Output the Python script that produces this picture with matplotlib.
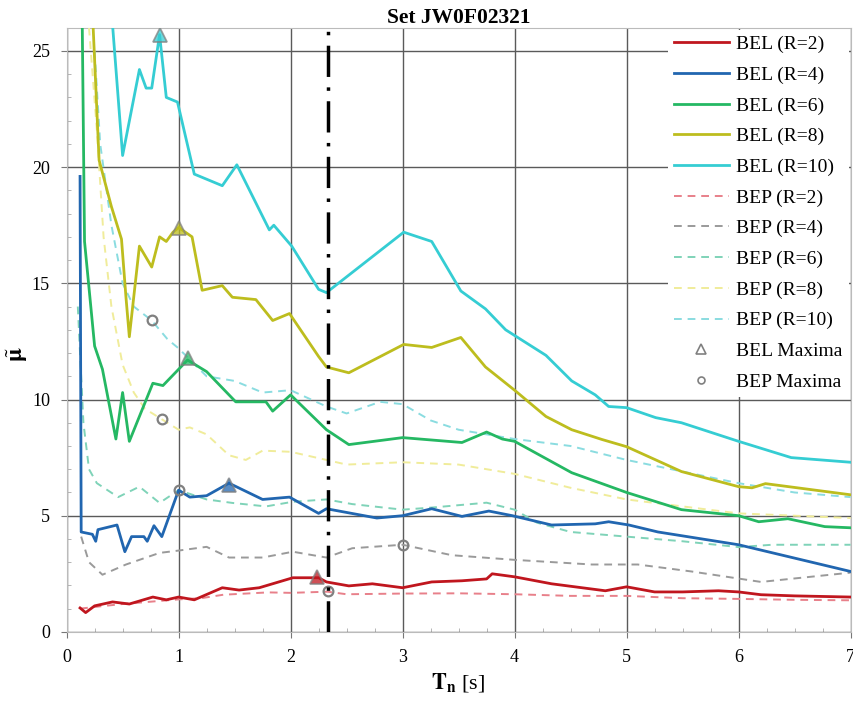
import matplotlib
matplotlib.use('Agg')
import matplotlib.pyplot as plt
from matplotlib.lines import Line2D
from matplotlib.ticker import MultipleLocator

plt.rcParams['font.family'] = ['Liberation Serif', 'DejaVu Serif']
plt.rcParams['mathtext.fontset'] = 'stix'

# BEL curves (solid)
bel2_T = [0.12,0.17,0.25,0.41,0.56,0.77,0.89,1.0,1.14,1.39,1.54,1.72,2.02,2.25,2.32,2.52,2.73,3.0,3.26,3.53,3.75,3.8,4.0,4.33,4.81,5.0,5.25,5.5,5.82,6.0,6.2,6.5,7.0]
bel2 = [1.03,0.83,1.12,1.29,1.2,1.5,1.38,1.5,1.38,1.9,1.8,1.9,2.33,2.33,2.15,1.98,2.07,1.9,2.15,2.2,2.28,2.5,2.37,2.07,1.77,1.94,1.72,1.72,1.77,1.72,1.6,1.55,1.5]

bel4_T = [0.12,0.13,0.23,0.26,0.28,0.45,0.52,0.58,0.69,0.72,0.78,0.85,1.0,1.1,1.25,1.45,1.75,1.99,2.25,2.32,2.77,3.0,3.26,3.53,3.77,3.98,4.33,4.72,4.84,5.02,5.28,6.0,7.0]
bel4 = [19.6,4.3,4.2,3.9,4.4,4.6,3.45,4.1,4.1,3.9,4.57,4.1,6.1,5.8,5.86,6.4,5.7,5.8,5.1,5.3,4.9,5.0,5.3,4.97,5.2,5.0,4.6,4.65,4.74,4.6,4.3,3.75,2.6]

bel6_T = [0.12,0.14,0.16,0.25,0.32,0.44,0.5,0.56,0.77,0.86,1.08,1.25,1.51,1.78,1.84,2.0,2.32,2.52,3.0,3.53,3.75,3.89,4.0,4.51,5.0,5.49,6.0,6.18,6.44,6.77,7.0]
bel6 = [34,26,16.8,12.3,11.3,8.3,10.3,8.2,10.7,10.6,11.7,11.2,9.9,9.9,9.5,10.2,8.7,8.06,8.36,8.15,8.6,8.3,8.2,6.85,6.0,5.26,5.0,4.74,4.87,4.53,4.48]

bel8_T = [0.2,0.29,0.4,0.49,0.53,0.56,0.65,0.76,0.83,0.89,0.95,1.0,1.12,1.21,1.39,1.48,1.69,1.84,1.99,2.25,2.32,2.52,3.01,3.26,3.52,3.74,4.0,4.28,4.51,4.78,5.0,5.49,6.0,6.12,6.24,7.0]
bel8 = [30,20.3,18.3,16.9,14.4,12.7,16.6,15.7,17.0,16.8,17.2,17.4,17.0,14.7,14.9,14.4,14.3,13.4,13.7,11.85,11.4,11.15,12.37,12.24,12.67,11.4,10.4,9.27,8.7,8.28,7.97,6.9,6.25,6.2,6.38,5.9]

bel10_T = [0.38,0.5,0.65,0.71,0.76,0.83,0.89,0.99,1.14,1.39,1.52,1.81,1.85,2.01,2.25,2.32,3.01,3.26,3.52,3.74,3.92,4.28,4.51,4.72,4.84,5.0,5.26,5.49,6.0,6.47,7.0]
bel10 = [28,20.5,24.2,23.4,23.4,25.7,23.0,22.8,19.7,19.2,20.1,17.3,17.5,16.6,14.74,14.6,17.2,16.8,14.67,13.9,13.0,11.9,10.8,10.2,9.7,9.65,9.22,9.0,8.2,7.5,7.3]

# BEP curves (dashed)
bep2_T = [0.12,0.3,0.5,0.75,1.0,1.2,1.4,1.6,1.8,2.0,2.33,2.5,3.0,3.5,4.0,4.5,5.0,5.5,6.0,6.5,7.0]
bep2 = [1.0,1.1,1.2,1.3,1.4,1.45,1.6,1.65,1.7,1.68,1.73,1.62,1.65,1.66,1.62,1.55,1.55,1.45,1.42,1.38,1.36]

bep4_T = [0.13,0.2,0.32,0.53,0.83,1.0,1.25,1.45,1.75,2.02,2.32,2.55,3.0,3.44,4.0,4.69,5.1,5.58,6.2,7.0]
bep4 = [4.1,3.0,2.46,2.9,3.4,3.5,3.66,3.2,3.2,3.45,3.2,3.6,3.75,3.3,3.1,2.9,2.9,2.6,2.15,2.55]

bep6_T = [0.1,0.15,0.2,0.27,0.46,0.65,0.83,1.0,1.25,1.48,1.78,2.02,2.32,2.55,3.0,3.26,3.75,4.0,4.2,4.5,5.0,5.5,6.0,6.3,7.0]
bep6 = [14,9,7,6.4,5.8,6.25,5.55,6.1,5.7,5.55,5.4,5.6,5.7,5.5,5.26,5.35,5.56,5.26,4.7,4.3,4.1,3.9,3.65,3.75,3.75]

bep8_T = [0.2,0.27,0.33,0.4,0.5,0.6,0.7,0.85,1.0,1.1,1.25,1.45,1.6,1.75,2.0,2.32,2.5,3.0,3.5,4.0,4.5,5.0,5.5,6.0,6.5,7.0]
bep8 = [26,21.6,17,14,11.5,10.3,9.6,9.15,8.7,8.8,8.5,7.6,7.4,7.8,7.75,7.4,7.2,7.3,7.2,6.8,6.2,5.7,5.4,5.1,5.0,4.9]

bep10_T = [0.25,0.3,0.4,0.5,0.6,0.76,0.9,1.0,1.25,1.5,1.75,2.0,2.32,2.5,2.8,3.0,3.25,3.5,4.0,4.5,5.0,5.5,6.0,6.5,7.0]
bep10 = [25,21,17.5,15,14,13.4,12.6,12.2,11.0,10.8,10.3,10.4,9.7,9.4,9.9,9.8,9.1,8.7,8.3,8.0,7.4,6.9,6.4,6.0,5.8]

# maxima (R = 2, 4, 6, 8, 10)
belmax_T = [2.24,1.45,1.08,1.0,0.83]
belmax = [2.35,6.3,11.8,17.4,25.7]
bepmax_T = [2.33,3.0,1.0,0.85,0.76]
bepmax = [1.75,3.75,6.1,9.15,13.4]

T_ref = 2.33

R_vals = [2, 4, 6, 8, 10]
bel_cols = ['#C0161E', '#2166B0', '#25B863', '#BDBD1E', '#35CDD3']
bep_cols = ['#E8808A', '#9A9A9A', '#7FD3B8', '#F0EC9A', '#8ADCE0']

fig, ax = plt.subplots(figsize=(8.54, 7.10), dpi=100)
fig.subplots_adjust(left=0.078, right=0.996, top=0.961, bottom=0.110)

bel_T = [bel2_T, bel4_T, bel6_T, bel8_T, bel10_T]
bel_v = [bel2, bel4, bel6, bel8, bel10]
bep_T = [bep2_T, bep4_T, bep6_T, bep8_T, bep10_T]
bep_v = [bep2, bep4, bep6, bep8, bep10]

for i, R in enumerate(R_vals):
    ax.plot(bel_T[i], bel_v[i], color=bel_cols[i], lw=2.0, label='BEL (R=%d)' % R, zorder=4)
for i, R in enumerate(R_vals):
    ax.plot(bep_T[i], bep_v[i], color=bep_cols[i], lw=1.4, ls=(0, (4, 3)), label='BEP (R=%d)' % R, zorder=3)

for i in range(5):
    ax.plot(belmax_T[i], belmax[i], marker='^', ms=10, mfc=bel_cols[i], mec='#808080', mew=1.3, alpha=0.75, zorder=5)
    ax.plot(bepmax_T[i], bepmax[i], marker='o', ms=7, mfc='none', mec='#808080', mew=1.6, zorder=5)

ax.axvline(T_ref, color='black', lw=2.5, ls=(0, (9, 3, 1, 3)), zorder=6)

ax.set_xlim(0, 7)
ax.set_ylim(0, 26)
ax.xaxis.set_major_locator(MultipleLocator(1))
ax.yaxis.set_major_locator(MultipleLocator(5))
ax.xaxis.set_minor_locator(MultipleLocator(0.25))
ax.yaxis.set_minor_locator(MultipleLocator(1))
ax.grid(True, which='major', color='#5a5a5a', lw=1.0, zorder=1)
ax.tick_params(which='major', length=4, color='#777777', labelsize=13, pad=8)
ax.tick_params(which='minor', direction='in', length=3, color='#aaaaaa')
for s in ax.spines.values():
    s.set_color('#bbbbbb')

ax.set_title('Set JW0F02321', fontsize=15.5, fontweight='bold', pad=3)
ax.set_xlabel(r'$\mathbf{T_n}$ [s]', fontsize=16, labelpad=4)
ax.set_ylabel(r'$\tilde{\mathbf{\mu}}$', fontsize=17)
ax.yaxis.set_label_coords(-0.047, 0.46)

handles, labels = ax.get_legend_handles_labels()
handles += [Line2D([], [], ls='none', marker='^', ms=7, mfc='none', mec='#808080', mew=1.2),
            Line2D([], [], ls='none', marker='o', ms=5, mfc='none', mec='#808080', mew=1.2)]
labels += ['BEL Maxima', 'BEP Maxima']
leg = ax.legend(handles, labels, loc='upper right', fontsize=14, frameon=True, framealpha=1,
                edgecolor='none', facecolor='white', labelspacing=0.67, handlelength=2.8,
                handletextpad=0.4, borderaxespad=0.1, borderpad=0.3)
leg.set_zorder(10)

plt.savefig('out.png', dpi=100)
plt.close()
